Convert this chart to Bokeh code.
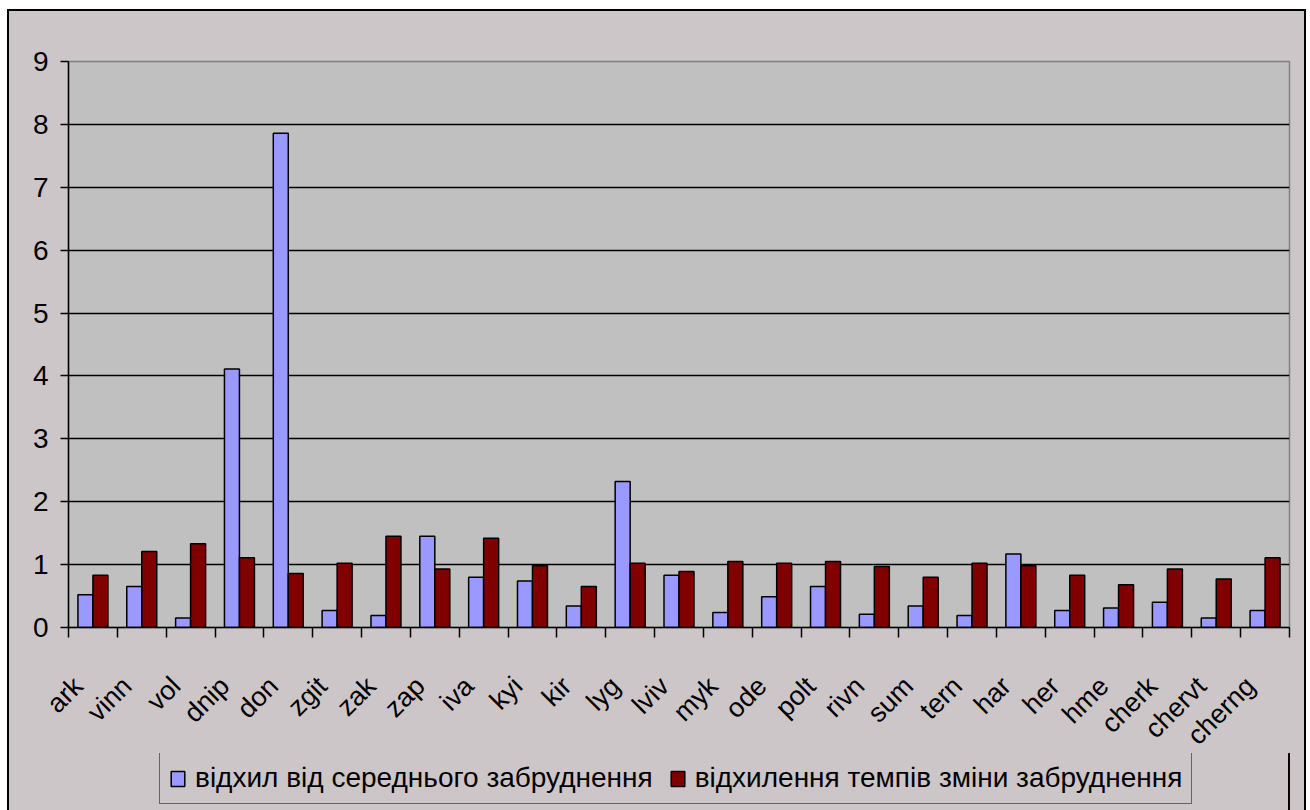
import math
from bokeh.plotting import figure
from bokeh.layouts import column
from bokeh.models import (Range1d, FixedTicker, Legend, LegendItem, ColumnDataSource)
from bokeh.transform import dodge
from bokeh.embed import file_html
from bokeh.resources import INLINE

cats = ["ark", "vinn", "vol", "dnip", "don", "zgit", "zak", "zap", "iva", "kyi",
        "kir", "lyg", "lviv", "myk", "ode", "polt", "rivn", "sum", "tern", "har",
        "her", "hme", "cherk", "chervt", "cherng"]
dev_mean = [0.52, 0.65, 0.15, 4.11, 7.86, 0.27, 0.19, 1.45, 0.80, 0.74,
            0.34, 2.32, 0.83, 0.24, 0.49, 0.65, 0.21, 0.34, 0.19, 1.17,
            0.27, 0.31, 0.40, 0.15, 0.27]
dev_rate = [0.83, 1.21, 1.33, 1.11, 0.86, 1.02, 1.45, 0.93, 1.42, 0.98,
            0.65, 1.02, 0.89, 1.05, 1.02, 1.05, 0.97, 0.80, 1.02, 0.98,
            0.83, 0.68, 0.93, 0.77, 1.11]
y_ticks = [0, 1, 2, 3, 4, 5, 6, 7, 8, 9]
label_mean = "відхил від середнього забруднення"
label_rate = "відхилення темпів зміни забруднення"

FONT = "Liberation Sans"
BG = "#cdc6c9"
BLUE = "#9999ff"
RED = "#800000"

n = len(cats)
centers = [i + 0.5 for i in range(n)]
edges = list(range(n + 1))
label_pos = [c - 0.3 for c in centers]
src = ColumnDataSource(dict(xc=centers, cats=cats, dev_mean=dev_mean, dev_rate=dev_rate))

p = figure(x_range=Range1d(0, n), y_range=Range1d(0, 9),
           width=1295, height=753, output_backend="svg", toolbar_location=None,
           min_border_left=59, min_border_top=50, min_border_right=15, min_border_bottom=136)
p.background_fill_color = "#c0c0c0"
p.border_fill_color = BG
p.outline_line_color = "#808080"
p.outline_line_width = 1.5

p.vbar(x=dodge("xc", -0.1535), top="dev_mean", width=0.307,
       source=src, fill_color=BLUE, line_color="black", line_width=1.5)
p.vbar(x=dodge("xc", 0.1535), top="dev_rate", width=0.307,
       source=src, fill_color=RED, line_color="black", line_width=1.5)

# y axis
p.yaxis.ticker = FixedTicker(ticks=y_ticks)
p.yaxis.major_label_text_font = FONT
p.yaxis.major_label_text_font_size = "28px"
p.yaxis.major_label_text_color = "black"
p.yaxis.major_tick_out = 8
p.yaxis.major_tick_in = 0
p.yaxis.minor_tick_line_color = None
p.yaxis.axis_line_color = "black"
p.yaxis.axis_line_width = 1.5
p.yaxis.major_tick_line_width = 1.5
p.yaxis.major_label_standoff = 12

p.ygrid.ticker = FixedTicker(ticks=y_ticks[1:-1])
p.ygrid.grid_line_color = "black"
p.ygrid.grid_line_width = 1.5
p.xgrid.grid_line_color = None

# category axis: labels near centres, tick marks at category boundaries
cat_ax = p.xaxis[0]
cat_ax.ticker = FixedTicker(ticks=label_pos, minor_ticks=edges)
cat_ax.major_label_overrides = {c: name for c, name in zip(label_pos, cats)}
cat_ax.axis_line_color = "black"
cat_ax.axis_line_width = 1.5
cat_ax.major_tick_line_color = None
cat_ax.minor_tick_line_color = "black"
cat_ax.minor_tick_line_width = 1.5
cat_ax.minor_tick_out = 10
cat_ax.minor_tick_in = 0
cat_ax.major_tick_out = 0
cat_ax.major_tick_in = 0
cat_ax.major_label_orientation = math.pi / 4
cat_ax.major_label_text_font = FONT
cat_ax.major_label_text_font_size = "27px"
cat_ax.major_label_text_color = "black"
cat_ax.major_label_standoff = 44

# legend strip below the chart (transparent canvas overlapping the chart's bottom edge)
lg = figure(x_range=Range1d(-3, -2), y_range=Range1d(0, 1), width=1295, height=57,
            output_backend="svg", toolbar_location=None,
            x_axis_location=None, y_axis_location=None,
            min_border_left=59, min_border_right=15, min_border_top=0, min_border_bottom=0)
lg.grid.visible = False
lg.background_fill_alpha = 0
lg.border_fill_alpha = 0
lg.outline_line_color = None
lg.styles = {"margin-top": "-11px"}
k1 = lg.vbar(x="xc", top="dev_mean", width=0.307, source=src, fill_color=BLUE,
             line_color="black", line_width=1.5)
k2 = lg.vbar(x="xc", top="dev_rate", width=0.307, source=src, fill_color=RED,
             line_color="black", line_width=1.5)

legend = Legend(items=[LegendItem(label=label_mean, renderers=[k1]),
                       LegendItem(label=label_rate, renderers=[k2])],
                orientation="horizontal", location=(91, 6))
legend.label_text_font = FONT
legend.label_text_font_size = "28px"
legend.label_text_color = "black"
legend.glyph_width = 17
legend.glyph_height = 19
legend.label_standoff = 9
legend.spacing = 16
legend.padding = 9
legend.margin = 0
legend.border_line_color = "black"
legend.border_line_width = 1.5
legend.background_fill_color = BG
legend.background_fill_alpha = 1
lg.add_layout(legend, "center")

layout = column(p, lg, spacing=0)
layout.styles = {"border-left": "2px solid black", "border-top": "2px solid black",
                 "border-right": "2px solid black", "margin-left": "7px", "margin-top": "9px",
                 "background-color": BG}

open("out.html", "w").write(file_html(layout, INLINE))
